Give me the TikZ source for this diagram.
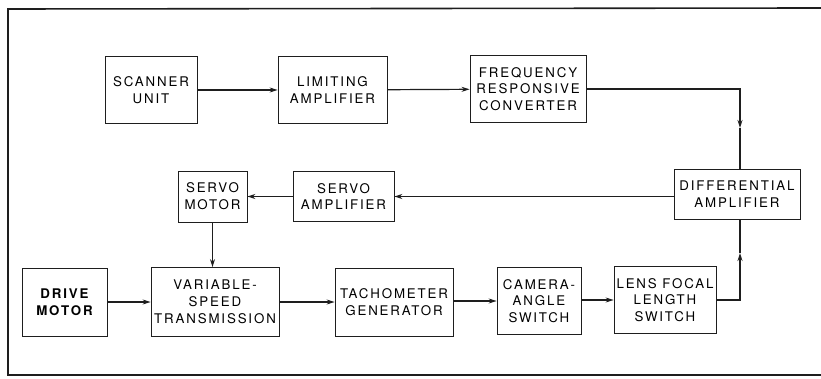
\documentclass[tikz,border=0pt]{standalone}
\usepackage{fontspec}
\usepackage{tikz}
\usetikzlibrary{arrows.meta}
\newfontfamily\lettering[LetterSpace=14]{TeX Gyre Heros}
\definecolor{ink}{HTML}{1E1E1E}
\newcommand{\blk}[6]{%
  \node[blk, minimum width=#4pt, minimum height=#5pt] (#1) at (#2,#3) {#6};}
\tikzset{
  blk/.style={draw=ink, line width=0.8pt, align=center, inner sep=0pt,
    font=\lettering\fontsize{13.3}{16.8}\selectfont},
  wire/.style={draw=ink, line width=1.2pt},
  tip/.style={-{Stealth[length=8pt,width=5pt]}}}

\begin{document}
\begin{tikzpicture}[x=1pt,y=-1pt]
  \useasboundingbox (0,0) rectangle (821,379);
  \draw[ink, line width=1.6pt] (821,8) -- (8,9) -- (8,375) -- (821,375);
  % top row
  \blk{scan}{151}{90}{92}{67}{SCANNER\\UNIT}
  \blk{lim}{332.5}{90}{109}{67}{LIMITING\\AMPLIFIER}
  \blk{freq}{528}{89}{116}{67}{FREQUENCY\\RESPONSIVE\\CONVERTER}
  % middle row
  \blk{smot}{212.5}{196.5}{69}{51}{SERVO\\MOTOR}
  \blk{samp}{343.5}{196.5}{101}{50}{SERVO\\AMPLIFIER}
  \blk{diff}{737}{194}{126}{50}{DIFFERENTIAL\\AMPLIFIER}
  % bottom row
  \blk{drive}{64.5}{302}{85}{68}{\bfseries DRIVE\\\bfseries MOTOR}
  \blk{vst}{215}{302}{128}{69}{VARIABLE-\\SPEED\\TRANSMISSION}
  \blk{tach}{394}{302}{118}{68}{TACHOMETER\\GENERATOR}
  \blk{cam}{539}{301}{84}{67}{CAMERA-\\ANGLE\\SWITCH}
  \blk{lens}{665}{300}{102}{67}{LENS FOCAL\\LENGTH\\SWITCH}
  % connectors
  \draw[wire, tip] (scan) -- (lim);
  \draw[wire, tip] (lim) -- (freq);
  \coordinate (fd) at (740,128);
  \draw[wire, tip] (freq.east) -| (fd);
  \draw[wire] (fd) -- (fd |- diff.north);
  \draw[wire, tip] (diff.west |- samp) -- (samp.east);
  \draw[wire, tip] (samp) -- (smot);
  \draw[wire, tip] (smot.south) -- (smot.south |- vst.north);
  \draw[wire, tip] (drive) -- (drive -| vst.west);
  \draw[wire, tip] (vst) -- (vst -| tach.west);
  \draw[wire, tip] (tach.east |- cam) -- (cam);
  \draw[wire, tip] (cam.east |- lens) -- (lens);
  \coordinate (ld) at (740,253);
  \draw[wire, tip] (lens.east) -| (ld);
  \draw[wire] (ld) -- (ld |- diff.south);
\end{tikzpicture}
\end{document}
